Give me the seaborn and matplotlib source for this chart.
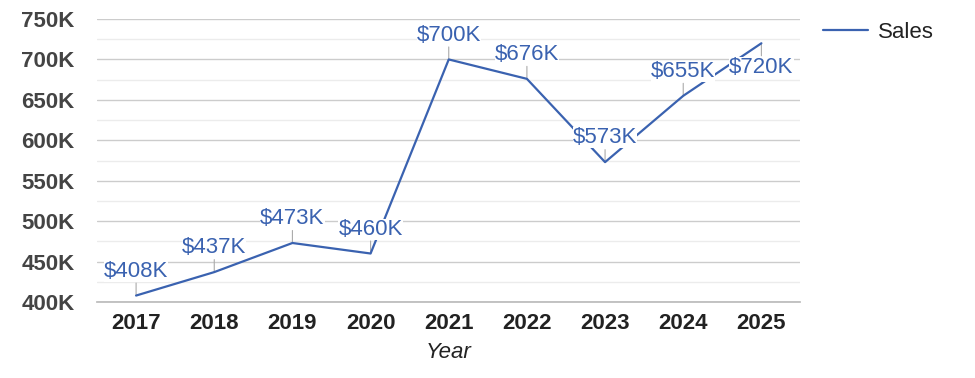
import numpy as np
import pandas as pd
import matplotlib
matplotlib.use("Agg")
import matplotlib.pyplot as plt
import seaborn as sns
from matplotlib.ticker import MultipleLocator, FuncFormatter

years = ["2017", "2018", "2019", "2020", "2021", "2022", "2023", "2024", "2025"]
sales = [408, 437, 473, 460, 700, 676, 573, 655, 720]  # thousands
label_below = [False, False, False, False, False, False, False, False, True]

line_color = "#3a62b0"
df = pd.DataFrame({"Year": years, "Sales": sales})

sns.set_theme(style="white")
plt.rcParams["font.family"] = ["Arial", "Liberation Sans", "DejaVu Sans"]

fig = plt.figure(figsize=(9.75, 3.78), dpi=100)
ax = fig.add_axes([0.0995, 0.201, 0.7215, 0.7487])

sns.lineplot(data=df, x="Year", y="Sales", ax=ax, color=line_color,
             linewidth=1.6, label="Sales", zorder=3)

ax.set_xlim(-0.5, len(years) - 0.5)
ax.set_ylim(400, 750)
ax.yaxis.set_major_locator(MultipleLocator(50))
ax.yaxis.set_minor_locator(MultipleLocator(25))
ax.yaxis.set_major_formatter(FuncFormatter(lambda v, p: f"{int(v)}K"))
ax.grid(which="major", axis="y", color="#cccccc", linewidth=1)
ax.grid(which="minor", axis="y", color="#ececec", linewidth=1)
ax.set_axisbelow(True)
for s in ["left", "right", "top"]:
    ax.spines[s].set_visible(False)
ax.spines["bottom"].set_color("#bbbbbb")
ax.tick_params(axis="y", which="both", length=0, pad=16, labelsize=16,
               labelcolor="#444444")
ax.tick_params(axis="x", length=0, pad=8, labelsize=16, labelcolor="#222222")
for t in ax.get_yticklabels() + ax.get_xticklabels():
    t.set_fontweight("bold")

ax.set_xlabel("Year", fontstyle="italic", fontsize=16, color="#222222", labelpad=6)
ax.set_ylabel("")

# data labels with small leader lines
for i, (v, below) in enumerate(zip(sales, label_below)):
    sign = -1 if below else 1
    ax.annotate("", xy=(i, v), xytext=(0, sign * 9), textcoords="offset points",
                arrowprops=dict(arrowstyle="-", color="#aaaaaa", lw=0.8,
                                shrinkA=0, shrinkB=0), zorder=2)
    ax.annotate(f"${v}K", xy=(i, v), xytext=(0, sign * 17.5),
                textcoords="offset points", ha="center", va="center",
                fontsize=16, color=line_color, zorder=4,
                bbox=dict(boxstyle="square,pad=0.0", fc="white", ec="none"))

leg = ax.legend(loc="upper left", bbox_to_anchor=(1.02, 1.02), frameon=False,
                fontsize=16, handlelength=2.0, handletextpad=0.45,
                borderaxespad=0)
for t in leg.get_texts():
    t.set_color("#222222")

fig.savefig("out.png", dpi=100)
